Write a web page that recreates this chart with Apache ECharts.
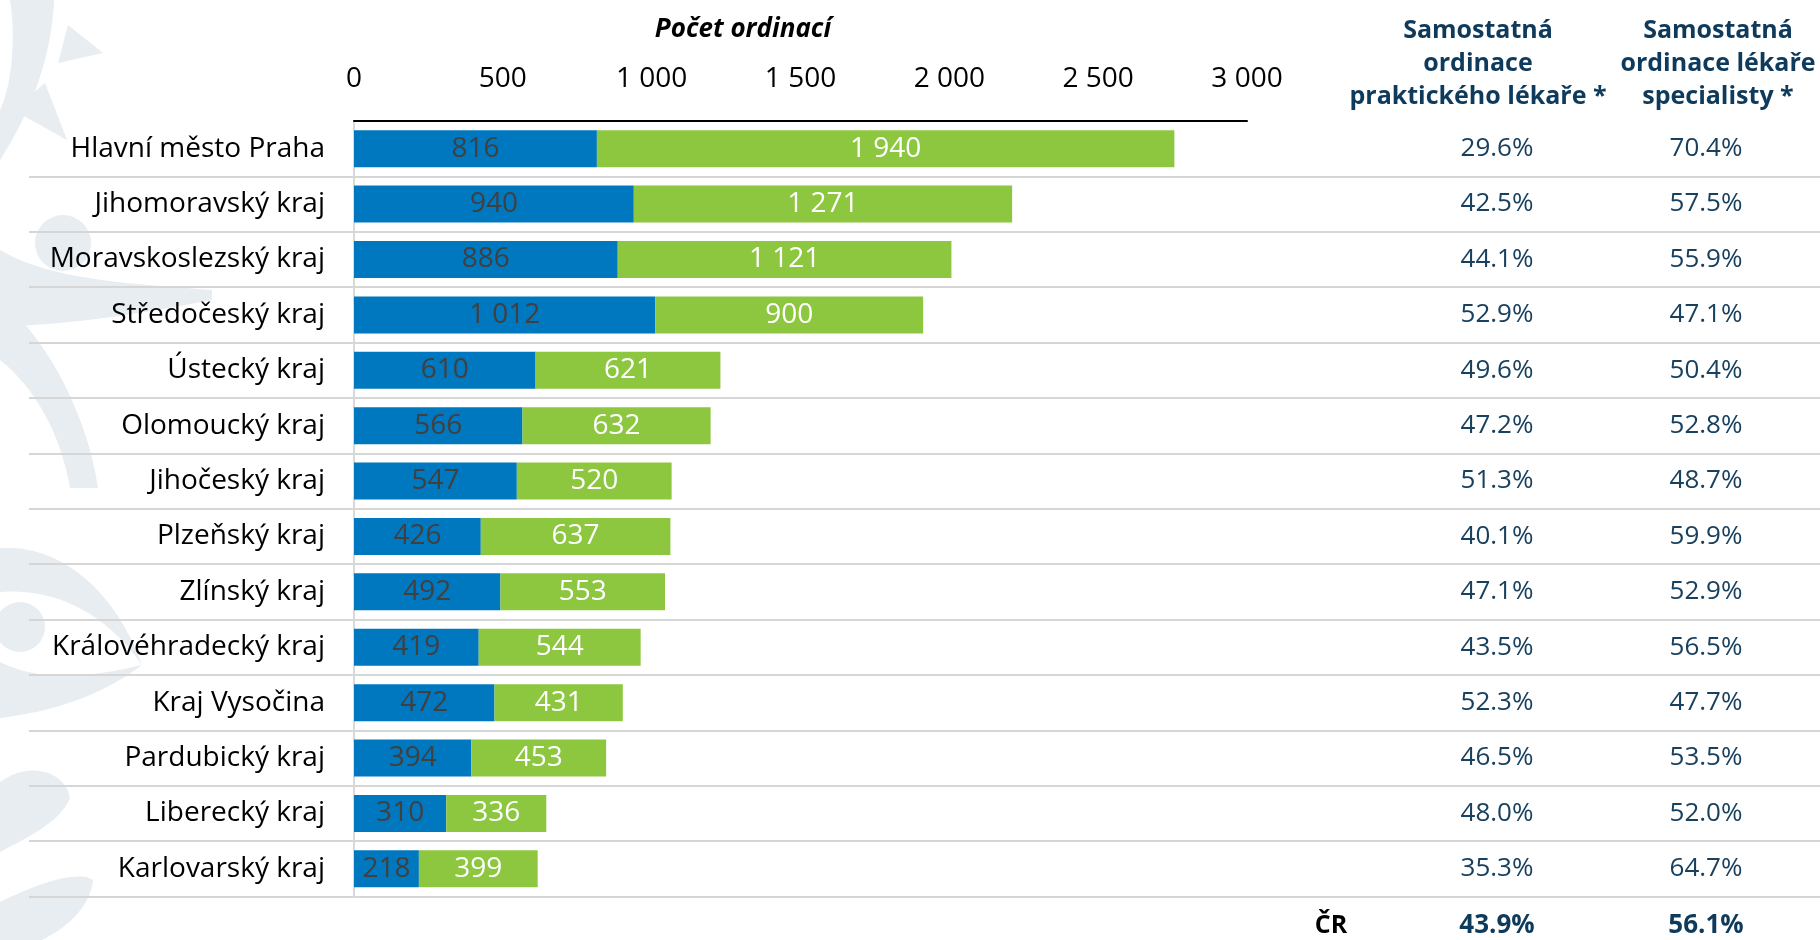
<!DOCTYPE html>
<html>
<head>
<meta charset="utf-8">
<script src="https://cdn.jsdelivr.net/npm/echarts@6/dist/echarts.min.js"></script>
<style>
html,body{margin:0;padding:0;background:#fff;}
#chart{width:1820px;height:940px;}
</style>
</head>
<body>
<div id="chart"></div>
<script>
const regions = ['Hlavní město Praha','Jihomoravský kraj','Moravskoslezský kraj','Středočeský kraj','Ústecký kraj','Olomoucký kraj','Jihočeský kraj','Plzeňský kraj','Zlínský kraj','Královéhradecký kraj','Kraj Vysočina','Pardubický kraj','Liberecký kraj','Karlovarský kraj'];
const practical = [816,940,886,1012,610,566,547,426,492,419,472,394,310,218];
const specialist = [1940,1271,1121,900,621,632,520,637,553,544,431,453,336,399];
const sharePractical = ['29.6%','42.5%','44.1%','52.9%','49.6%','47.2%','51.3%','40.1%','47.1%','43.5%','52.3%','46.5%','48.0%','35.3%'];
const shareSpecialist = ['70.4%','57.5%','55.9%','47.1%','50.4%','52.8%','48.7%','59.9%','52.9%','56.5%','47.7%','53.5%','52.0%','64.7%'];
const totalLabel = 'ČR';
const totalPractical = '43.9%';
const totalSpecialist = '56.1%';
const axisMin = 0, axisMax = 3000, axisStep = 500;
const axisTitle = 'Počet ordinací';
const headerPractical = ['Samostatná','ordinace','praktického lékaře *'];
const headerSpecialist = ['Samostatná','ordinace lékaře','specialisty *'];

const FONT = '"Open Sans", "Noto Sans", sans-serif';
const fmt = v => String(v).replace(/\B(?=(\d{3})+(?!\d))/g, ' ');
const DECO = '#e8edf2';
const NAVY = '#0e3a5c';
const NAVY2 = '#18405f';

const chart = echarts.init(document.getElementById('chart'), null, {renderer: 'canvas'});

// decorative background shapes (simple path strings -> sampled polygons)
const deco = [
  'M10,0 L54,0 C52,55 32,110 0,160 L0,110 C14,80 15,30 10,0 Z',
  'M68,25 L103,53 L58,63 Z',
  'M45,83 L67,140 L13,110 Z',
  'M0,250 C55,282 140,284 212,290 L212,300 C140,314 60,326 0,326 Z',
  'M0,300 C50,340 88,420 98,488 L70,488 C60,430 32,385 0,360 Z',
  'M0,548 C60,544 115,590 142,665 C105,612 55,588 0,592 Z',
  'M0,662 C45,684 95,676 142,665 C100,697 50,712 0,718 Z',
  'M0,782 C30,760 66,772 70,798 C60,822 30,836 0,852 Z',
  'M0,902 C40,882 80,870 93,880 C90,910 62,930 42,940 L0,940 Z'
];
function pathToPoints(d) {
  const tok = d.match(/[MLCZ]|-?\d+(\.\d+)?/g);
  const pts = []; let i = 0, cur = [0,0], cmd = null;
  while (i < tok.length) {
    const t = tok[i];
    if (/[MLCZ]/.test(t)) { cmd = t; i++; if (cmd === 'Z') continue; }
    if (cmd === 'M' || cmd === 'L') { cur = [+tok[i], +tok[i+1]]; pts.push(cur); i += 2; }
    else if (cmd === 'C') {
      const p1 = [+tok[i], +tok[i+1]], p2 = [+tok[i+2], +tok[i+3]], p3 = [+tok[i+4], +tok[i+5]];
      for (let k = 1; k <= 16; k++) {
        const s = k / 16, u = 1 - s;
        pts.push([u*u*u*cur[0] + 3*u*u*s*p1[0] + 3*u*s*s*p2[0] + s*s*s*p3[0],
                  u*u*u*cur[1] + 3*u*u*s*p1[1] + 3*u*s*s*p2[1] + s*s*s*p3[1]]);
      }
      cur = p3; i += 6;
    } else i++;
  }
  return pts;
}
const graphics = deco.map(p => ({type:'polygon', z:-10, silent:true, shape:{points:pathToPoints(p)}, style:{fill:DECO}}));
graphics.push({type:'circle', z:-10, silent:true, shape:{cx:63, cy:243, r:28}, style:{fill:DECO}});
graphics.push({type:'circle', z:-10, silent:true, shape:{cx:20, cy:627, r:25}, style:{fill:DECO}});

graphics.push({type:'text', x:743, y:30, style:{text:axisTitle, font:'italic bold 26px ' + FONT, fill:'#000', textAlign:'center', textVerticalAlign:'middle'}});
graphics.push({type:'text', x:1478, y:14, style:{text:headerPractical.join('\n'), font:'bold 25px ' + FONT, lineHeight:33, fill:NAVY, textAlign:'center', textVerticalAlign:'top'}});
graphics.push({type:'text', x:1718, y:14, style:{text:headerSpecialist.join('\n'), font:'bold 25px ' + FONT, lineHeight:33, fill:NAVY, textAlign:'center', textVerticalAlign:'top'}});
graphics.push({type:'text', x:1331, y:926, style:{text:totalLabel, font:'bold 25px ' + FONT, fill:'#000', textAlign:'center', textVerticalAlign:'middle'}});
graphics.push({type:'text', x:1497, y:926, style:{text:totalPractical, font:'bold 26px ' + FONT, fill:NAVY, textAlign:'center', textVerticalAlign:'middle'}});
graphics.push({type:'text', x:1706, y:926, style:{text:totalSpecialist, font:'bold 26px ' + FONT, fill:NAVY, textAlign:'center', textVerticalAlign:'middle'}});

const option = {
  animation: false,
  backgroundColor: '#fff',
  textStyle: {fontFamily: FONT},
  grid: [
    {left: 354, top: 121, width: 893, height: 775.5, containLabel: false},
    {left: 29, top: 121, width: 1791, height: 775.5, containLabel: false}
  ],
  xAxis: [
    {
      gridIndex: 0, type: 'value', position: 'top', min: axisMin, max: axisMax, interval: axisStep,
      axisLine: {show: true, onZero: false, lineStyle: {color: '#000', width: 2}},
      axisTick: {show: false}, splitLine: {show: false},
      axisLabel: {color: '#000', fontSize: 28, fontFamily: FONT, margin: 28, formatter: fmt}
    },
    {gridIndex: 1, type: 'value', show: false, min: 0, max: 1}
  ],
  yAxis: [
    {
      gridIndex: 0, type: 'category', inverse: true, data: regions,
      axisLine: {show: true, lineStyle: {color: '#d9d9d9', width: 2}},
      axisTick: {show: false}, splitLine: {show: false},
      axisLabel: {color: '#000', fontSize: 28, fontFamily: FONT, margin: 29, interval: 0}
    },
    {
      gridIndex: 0, type: 'category', inverse: true, data: sharePractical, position: 'right', offset: 250,
      axisLine: {show: false}, axisTick: {show: false}, splitLine: {show: false},
      axisLabel: {color: NAVY2, fontSize: 26, fontFamily: FONT, margin: 0, align: 'center', interval: 0}
    },
    {
      gridIndex: 0, type: 'category', inverse: true, data: shareSpecialist, position: 'right', offset: 459,
      axisLine: {show: false}, axisTick: {show: false}, splitLine: {show: false},
      axisLabel: {color: NAVY2, fontSize: 26, fontFamily: FONT, margin: 0, align: 'center', interval: 0}
    },
    {
      gridIndex: 1, type: 'category', inverse: true, data: regions,
      axisLine: {show: false}, axisTick: {show: false}, axisLabel: {show: false},
      splitLine: {show: true, interval: 0, showMinLine: false, showMaxLine: true, lineStyle: {color: '#d6d6d6', width: 2}}
    }
  ],
  series: [
    {
      name: 'praktický lékař', type: 'bar', stack: 'total', xAxisIndex: 0, yAxisIndex: 0,
      data: practical, barWidth: 37, z: 5,
      itemStyle: {color: '#0078bf'},
      label: {show: true, position: 'inside', color: '#404040', fontSize: 28, fontFamily: FONT, formatter: p => fmt(p.value)}
    },
    {
      name: 'specialista', type: 'bar', stack: 'total', xAxisIndex: 0, yAxisIndex: 0,
      data: specialist, barWidth: 37, z: 5,
      itemStyle: {color: '#8dc63f'},
      label: {show: true, position: 'inside', color: '#fff', fontSize: 28, fontFamily: FONT, formatter: p => fmt(p.value)}
    }
  ],
  graphic: graphics
};
chart.setOption(option);
</script>
</body>
</html>
